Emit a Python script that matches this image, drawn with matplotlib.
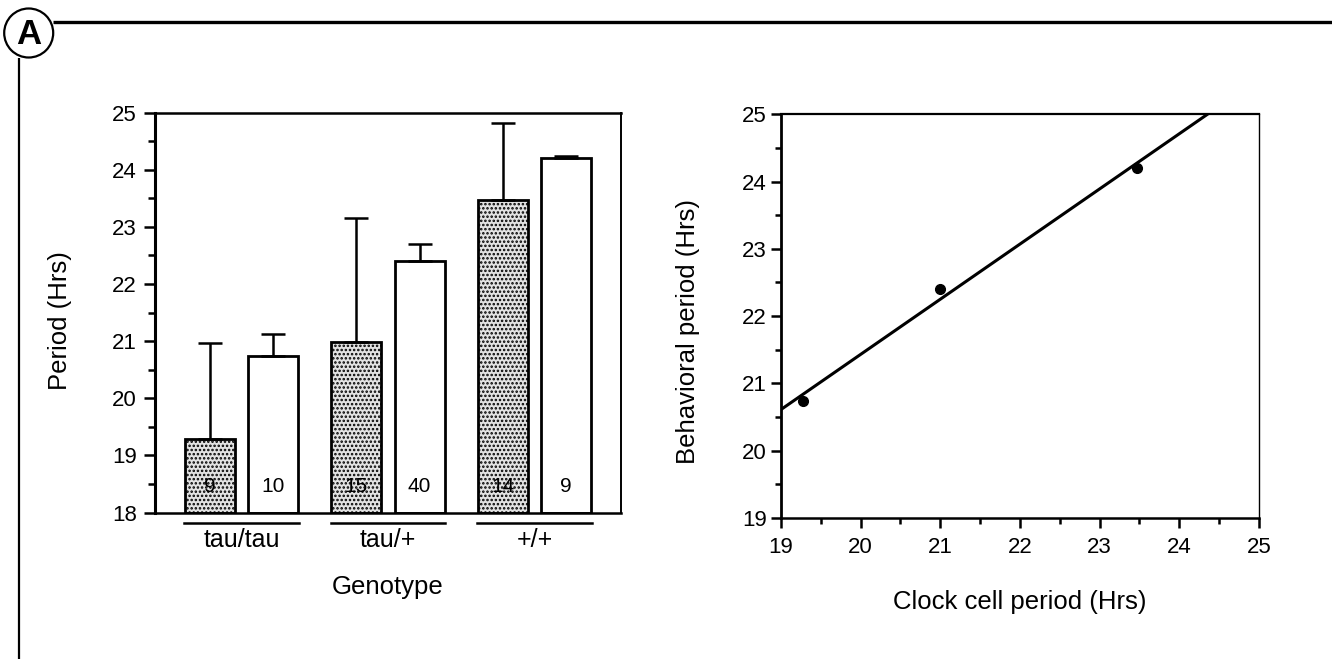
import numpy as np
import matplotlib
matplotlib.use("Agg")
import matplotlib.pyplot as plt
from matplotlib.patches import Circle
from matplotlib.lines import Line2D

plt.rcParams['font.family'] = ['Liberation Sans', 'DejaVu Sans']
plt.rcParams['hatch.linewidth'] = 1.2
plt.rcParams['hatch.color'] = '#111111'

# Circadian period by genotype
genotypes = ["tau/tau", "tau/+", "+/+"]
cell_period = [19.28, 20.99, 23.47]      # stippled bars: clock cell period
cell_err = [1.68, 2.16, 1.35]
behav_period = [20.74, 22.41, 24.21]     # open bars: behavioral period
behav_err = [0.39, 0.29, 0.03]
cell_n = [9, 15, 14]
behav_n = [10, 40, 9]

y_ticks_bar = [18, 19, 20, 21, 22, 23, 24, 25]
ticks_scatter = [19, 20, 21, 22, 23, 24, 25]

fig = plt.figure(figsize=(13.32, 6.59), dpi=100)
fig.patch.set_facecolor("white")

# ---- panel frame with circled letter ----
frame = fig.add_axes([0, 0, 1, 1], zorder=-1)
frame.set_xlim(0, 1332)
frame.set_ylim(659, 0)
frame.axis("off")
frame.add_patch(Circle((28.7, 33), 24.5, fill=False, lw=1.6, color="black"))
frame.text(28.7, 34, "A", ha="center", va="center", fontsize=25, fontweight="bold")
frame.plot([53, 1332], [21.7, 21.7], color="black", lw=2.4, solid_capstyle="butt")
frame.plot([19.3, 19.3], [57.5, 659], color="black", lw=1.6, solid_capstyle="butt")

# ---- bar chart ----
ax1 = fig.add_axes([0.1164, 0.2223, 0.3498, 0.6067])
x = np.arange(len(genotypes))
w = 0.341
off = 0.216
base = 18
cell_h = np.array(cell_period) - base
behav_h = np.array(behav_period) - base
ax1.bar(x - off, cell_h, w, bottom=base, facecolor="#e2e2e2", edgecolor="black",
        hatch="....", lw=2.0, zorder=2)
ax1.bar(x + off, behav_h, w, bottom=base, facecolor="white", edgecolor="black",
        lw=2.0, zorder=2)
ax1.errorbar(x - off, cell_period, yerr=[np.zeros(3), cell_err], fmt="none",
             ecolor="black", elinewidth=1.8, capsize=8.5, capthick=1.8, zorder=3)
ax1.errorbar(x + off, behav_period, yerr=[np.zeros(3), behav_err], fmt="none",
             ecolor="black", elinewidth=1.8, capsize=8.5, capthick=1.8, zorder=3)
for xi, n in zip(x - off, cell_n):
    ax1.text(xi, 18.45, str(n), ha="center", va="center", fontsize=15, zorder=4)
for xi, n in zip(x + off, behav_n):
    ax1.text(xi, 18.45, str(n), ha="center", va="center", fontsize=15, zorder=4)

ax1.set_xlim(-0.59, 2.59)
ax1.set_ylim(18, 25)
ax1.set_yticks(y_ticks_bar)
ax1.set_yticks(np.arange(18.5, 25, 1.0), minor=True)
ax1.tick_params(axis="y", which="major", length=8, width=1.8, direction="out",
                labelsize=16, pad=5)
ax1.tick_params(axis="y", which="minor", length=5, width=1.8, direction="out")
ax1.set_xticks([])
for s, lw in zip(["left", "bottom", "top", "right"], [2.2, 1.8, 1.8, 1.4]):
    ax1.spines[s].set_linewidth(lw)

# group underlines and labels
for xi, g in zip(x, genotypes):
    ax1.add_line(Line2D([xi - 0.39, xi + 0.39], [17.81, 17.81], color="black",
                        lw=1.8, clip_on=False))
    ax1.text(xi, 17.52, g, ha="center", va="center", fontsize=18, clip_on=False)
ax1.text(0.5, -0.186, "Genotype", transform=ax1.transAxes, ha="center",
         va="center", fontsize=18.5)
ax1.set_ylabel("Period (Hrs)", fontsize=18.5)
ax1.yaxis.set_label_coords(-0.178, 0.48)

# ---- scatter with regression line ----
ax2 = fig.add_axes([0.5863, 0.2144, 0.3589, 0.6119])
xs = np.array(cell_period)
ys = np.array(behav_period)
slope, intercept = np.polyfit(xs, ys, 1)
xl = np.array([19, 25])
ax2.plot(xl, slope * xl + intercept, color="black", lw=2.2, zorder=2)
ax2.plot(xs, ys, "o", color="black", ms=7, zorder=3)
ax2.set_xlim(19, 25)
ax2.set_ylim(19, 25)
ax2.set_xticks(ticks_scatter)
ax2.set_yticks(ticks_scatter)
ax2.set_xticks(np.arange(19.5, 25, 1.0), minor=True)
ax2.set_yticks(np.arange(19.5, 25, 1.0), minor=True)
ax2.tick_params(axis="both", which="major", length=7, width=1.8, direction="out",
                labelsize=16)
ax2.tick_params(axis="both", which="minor", length=4, width=1.8, direction="out")
ax2.tick_params(axis="x", which="major", pad=7)
ax2.tick_params(axis="y", which="major", pad=3)
for s, lw in zip(["left", "bottom", "top", "right"], [2.0, 1.8, 1.6, 1.0]):
    ax2.spines[s].set_linewidth(lw)
ax2.set_ylabel("Behavioral period (Hrs)", fontsize=18.5)
ax2.yaxis.set_label_coords(-0.17, 0.463)
ax2.set_xlabel("Clock cell period (Hrs)", fontsize=18.5)
ax2.xaxis.set_label_coords(0.5, -0.18)

fig.savefig("out.png", dpi=100, facecolor="white")
